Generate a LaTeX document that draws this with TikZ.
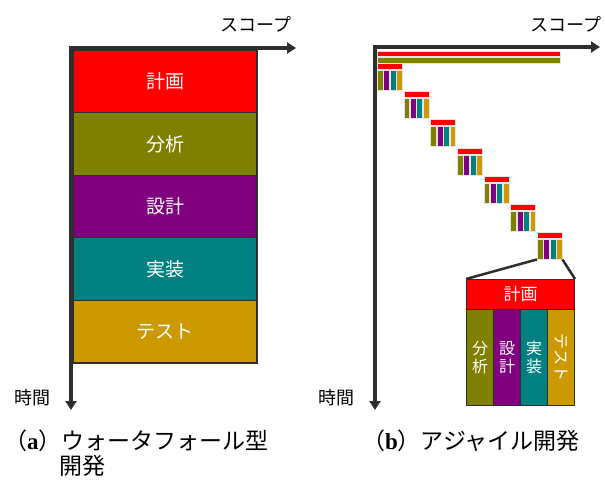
\documentclass[tikz,border=0pt]{standalone}
\usepackage{fontspec}
\newfontfamily\jp{Noto Sans CJK JP}
\newfontfamily\capserif{Liberation Serif}
\usetikzlibrary{arrows.meta}
\definecolor{cred}{HTML}{FF0000}
\definecolor{colive}{HTML}{808000}
\definecolor{cpurple}{HTML}{800080}
\definecolor{cteal}{HTML}{008080}
\definecolor{cgold}{HTML}{CC9900}
\definecolor{caxis}{HTML}{2E2E2E}
\tikzset{
  axisline/.style={draw=caxis, line width=4pt, line join=miter, {Triangle[length=9pt,width=11pt]}-{Triangle[length=9pt,width=11pt]}},
  wbox/.style={draw=caxis, line width=1.2pt, minimum width=184pt, minimum height=62.6pt, inner sep=0pt, text=white, font=\jp\fontsize{19}{21}\selectfont},
  lbl/.style={font=\jp\fontsize{18}{20}\selectfont, text=black, inner sep=0pt},
  captxt/.style={font=\jp\fontsize{23}{25}\selectfont, text=black, inner sep=0pt, anchor=west},
  mini/.style={draw=white!80!gray, line width=0.4pt, inner sep=0pt, anchor=north west},
  bigbox/.style={draw=caxis, line width=1pt, inner sep=0pt, text=white, anchor=north west},
  zoomline/.style={draw=caxis, line width=2.5pt},
}
\newcommand{\letr}[1]{{\capserif\bfseries #1}}
\begin{document}
\begin{tikzpicture}[x=1pt,y=-1pt]
\useasboundingbox (0,0) rectangle (605,485);
% ---------- (a) waterfall ----------
\node[wbox, fill=cred]    (w1) at (165,81.3)  {計画};
\node[wbox, fill=colive]  (w2) at (165,143.9) {分析};
\node[wbox, fill=cpurple] (w3) at (165,206.5) {設計};
\node[wbox, fill=cteal]   (w4) at (165,269.1) {実装};
\node[wbox, fill=cgold]   (w5) at (165,331.7) {テスト};
\coordinate (ao) at (71,48);
\coordinate (ay) at (71,410);
\coordinate (ax) at (296,48);
\draw[axisline] (ay) -- (ao) -- (ax);
\node[lbl] (ascope) at (256,24) {スコープ};
\node[lbl] (atime)  at (32,398) {時間};
% ---------- (b) agile ----------
\coordinate (bo) at (375,47);
\coordinate (by) at (375,410);
\coordinate (bx) at (600,47);
\draw[axisline] (by) -- (bo) -- (bx);
\node[lbl] (bscope) at (566,24) {スコープ};
\node[lbl] (btime)  at (336,398) {時間};
\node[mini, fill=cred,   minimum width=183pt, minimum height=5.5pt] (lr) at (377,50.5) {};
\node[mini, fill=colive, minimum width=183pt, minimum height=5.5pt] (lo) at (377,57) {};
\foreach \i in {0,...,6}{
  \pgfmathsetmacro{\xx}{377+26.67*\i}
  \pgfmathsetmacro{\yy}{63+28.17*\i}
  \node[mini, fill=cred, minimum width=25pt, minimum height=6pt] (h\i) at (\xx,\yy) {};
  \node[mini, fill=colive,  minimum width=5.8pt, minimum height=20pt] (p\i) at (\xx,\yy+7) {};
  \node[mini, fill=cpurple, minimum width=5.8pt, minimum height=20pt] (q\i) at (\xx+6.4,\yy+7) {};
  \node[mini, fill=cteal,   minimum width=5.8pt, minimum height=20pt] (r\i) at (\xx+12.8,\yy+7) {};
  \node[mini, fill=cgold,   minimum width=5.8pt, minimum height=20pt] (s\i) at (\xx+19.2,\yy+7) {};
}
% enlarged iteration
\node[bigbox, fill=cred, minimum width=108pt, minimum height=30pt, font=\jp\fontsize{17}{19}\selectfont] (bh) at (466,279) {計画};
\node[bigbox, fill=colive,  minimum width=27pt, minimum height=96pt, align=center, font=\jp\fontsize{16}{18}\selectfont] (b1) at (466,309) {分\\析};
\node[bigbox, fill=cpurple, minimum width=27pt, minimum height=96pt, align=center, font=\jp\fontsize{16}{18}\selectfont] (b2) at (493,309) {設\\計};
\node[bigbox, fill=cteal,   minimum width=27pt, minimum height=96pt, align=center, font=\jp\fontsize{16}{18}\selectfont] (b3) at (520,309) {実\\装};
\node[bigbox, fill=cgold,   minimum width=27pt, minimum height=96pt, font=\jp\fontsize{16}{18}\selectfont] (b4) at (547,309) {};
\node[text=white, font=\jp\fontsize{16}{18}\selectfont, rotate=-90, inner sep=0pt] (b4t) at (b4.center) {テスト};
\draw[zoomline] (p6.south west) -- (bh.north west);
\draw[zoomline] (s6.south east) -- (bh.north east);
% ---------- captions ----------
\node[captxt] (capa) at (4,441) {（\letr{a}）ウォータフォール型};
\node[captxt] (capa2) at (59,466) {開発};
\node[captxt] (capb) at (362,441) {（\letr{b}）アジャイル開発};
\end{tikzpicture}
\end{document}
